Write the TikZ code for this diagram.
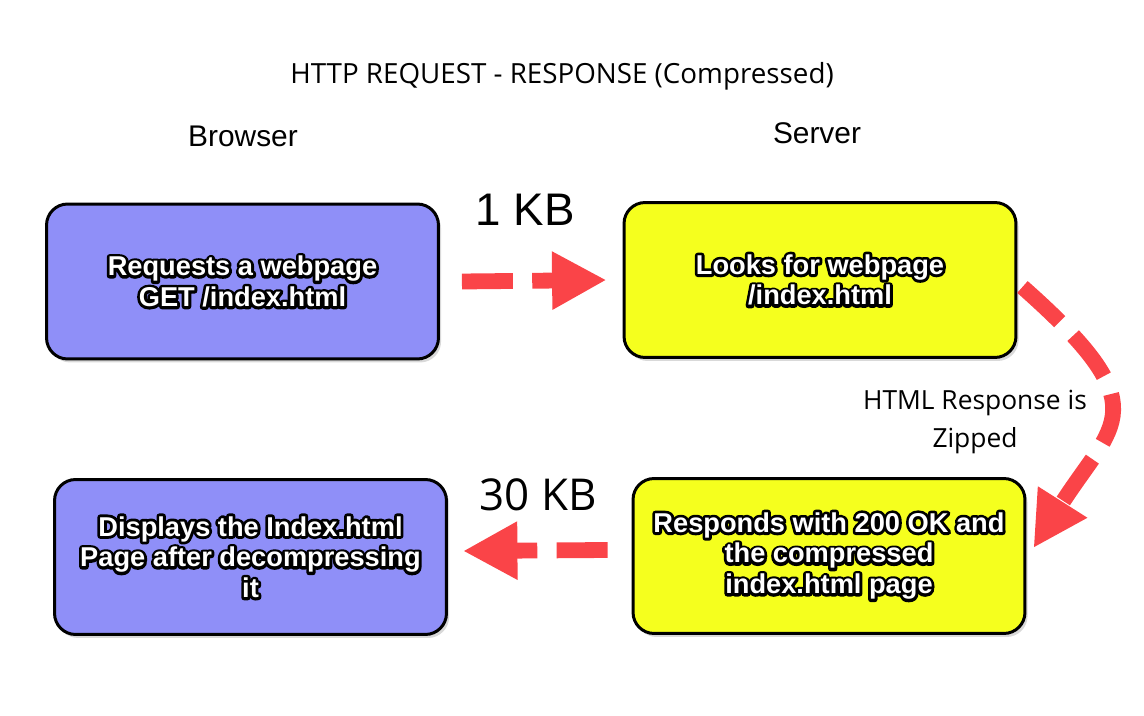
\documentclass[tikz,border=0pt]{standalone}
\usepackage{fontspec}
\setmainfont{Liberation Sans}
\newfontfamily\segoe{Open Sans}
\usetikzlibrary{arrows.meta,shadows}

\definecolor{browserblue}{RGB}{143,143,248}
\definecolor{serveryellow}{RGB}{245,255,30}
\definecolor{arrowred}{RGB}{250,68,72}
\newcommand{\outl}[1]{\leavevmode\rlap{\special{pdf:literal direct 2 Tr 3.2 w 1 j 0 0 0 RG}#1\special{pdf:literal direct 0 Tr}}#1}

\begin{document}
\begin{tikzpicture}[x=0.02cm,y=-0.02cm,
    box/.style={draw=black,line width=1.7pt,rounded corners=12pt,
      minimum width=7.84cm,minimum height=3.1cm,align=center,text=white,
      font=\bfseries\fontsize{15.5}{17.5}\selectfont,
      drop shadow={shadow xshift=1.5pt,shadow yshift=-2pt,opacity=0.3}},
    flow/.style={draw=arrowred,line width=9pt,dash pattern=on 29pt off 11pt,
      -{Triangle[length=31pt,width=31pt]}},
    caption/.style={font=\segoe\fontsize{15}{21.5}\selectfont,align=center}]
    \useasboundingbox (0,0) rectangle (1144,716);
    \node[font=\segoe\fontsize{15.8}{20}\selectfont] (title) at (562,76) {HTTP REQUEST - RESPONSE (Compressed)};
    \node[font=\fontsize{17}{20}\selectfont] (browser) at (243,136) {Browser};
    \node[font=\fontsize{17}{20}\selectfont] (server) at (817,133) {Server};
    \node[box,fill=browserblue] (req) at (242.5,281.5) {\outl{Requests a webpage}\\\outl{GET /index.html}};
    \node[box,fill=serveryellow] (look) at (820,280) {\outl{Looks for webpage}\\\outl{/index.html}};
    \node[box,fill=serveryellow] (resp) at (829,556) {\outl{Responds with 200 OK and}\\\outl{the compressed}\\\outl{index.html page}};
    \node[box,fill=browserblue] (disp) at (250.5,557) {\outl{Displays the Index.html}\\\outl{Page after decompressing}\\\outl{it}};
    \node[font=\fontsize{26}{30}\selectfont] (small) at (525,210) {1 KB};
    \node[font=\segoe\fontsize{25}{30}\selectfont] (big) at (538,495) {30 KB};
    \node[caption] (zip) at (975,422) {HTML Response is\\Zipped};
    \draw[flow] ([xshift=0.44cm]req.east) -- ([xshift=-0.32cm]look.west);
    \draw[flow] ([xshift=0.1cm,yshift=-0.14cm]look.east) .. controls +(138,122) and +(80,-126) .. ([xshift=0.14cm,yshift=0.16cm]resp.east);
    \draw[flow] ([xshift=-0.48cm,yshift=0.12cm]resp.west) -- ([xshift=0.3cm,yshift=0.12cm]disp.east);
\end{tikzpicture}
\end{document}
